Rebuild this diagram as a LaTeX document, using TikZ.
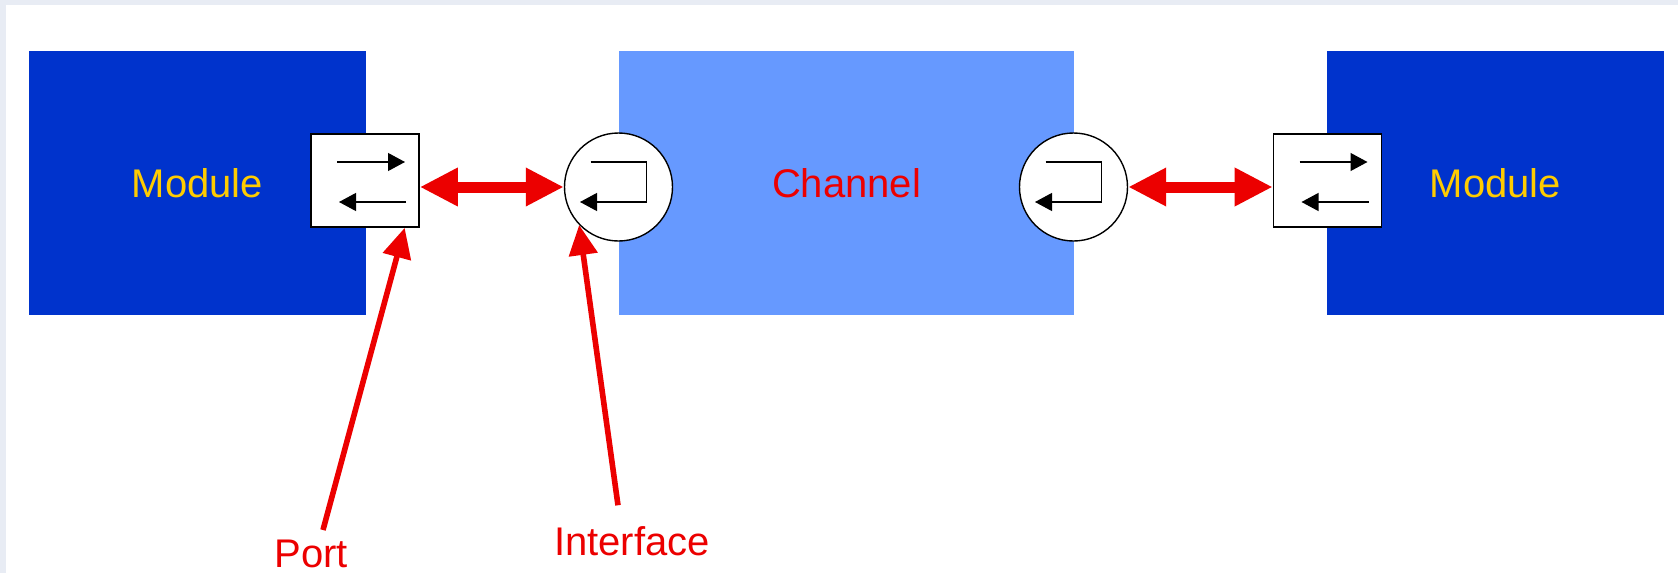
\documentclass[tikz,border=0pt]{standalone}
\usepackage{fontspec}
\setmainfont{Liberation Sans}
\usepackage{tikz}
\usetikzlibrary{arrows.meta}

\definecolor{modblue}{RGB}{0,51,204}
\definecolor{chanblue}{RGB}{102,153,255}
\definecolor{linkred}{RGB}{236,0,0}
\definecolor{modgold}{RGB}{255,204,0}
\definecolor{framegray}{RGB}{232,236,244}

\begin{document}
\begin{tikzpicture}[x=0.5pt,y=-0.5pt,>=stealth,
	font=\fontsize{20}{24}\selectfont,
	module/.style={rectangle,fill=modblue,text=modgold,minimum width=168.5pt,minimum height=132pt},
	channel/.style={rectangle,fill=chanblue,text=linkred,minimum width=227.5pt,minimum height=132pt},
	portbox/.style={rectangle,draw=black,line width=0.8pt,fill=white,minimum width=54pt,minimum height=46.5pt},
	ifcircle/.style={circle,draw=black,line width=0.7pt,fill=white,minimum size=54pt,inner sep=0pt},
	link/.style={linkred,line width=5.5pt,{Triangle[length=19pt,width=18pt]}-{Triangle[length=19pt,width=18pt]}},
	pointer/.style={linkred,line width=2.8pt,-{Triangle[length=15pt,width=14pt]}},
	flow/.style={black,line width=0.6pt,-{Triangle[length=8.5pt,width=9pt]}},
	callout/.style={text=linkred}
	]
	\useasboundingbox (0,0) rectangle (1678,573);
	\fill[framegray] (0,0) rectangle (1678,573);
	\fill[white] (6,5) rectangle (1678,573);
	
	% blocks
	\node[module] (modL) at (197.5,183) {Module};
	\node[channel] (chan) at (846.5,183) {Channel};
	\node[module] (modR) at (1495.5,183) {Module};
	
	% ports and interfaces
	\node[portbox] (portL) at (365,180.5) {};
	\node[portbox] (portR) at (1327.5,180.5) {};
	\node[ifcircle] (ifL) at (618.5,187) {};
	\node[ifcircle] (ifR) at (1073.5,187) {};
	
	\foreach \p in {portL,portR}{
		\draw[flow,shift={(\p.center)}] (-28,-18.5) -- (40,-18.5);
		\draw[flow,shift={(\p.center)}] (41,21.5) -- (-26,21.5);
	}
	\foreach \c in {ifL,ifR}{
		\draw[flow,shift={(\c.center)}] (-28,-25) -- (28,-25) -- (28,15) -- (-38.5,15);
	}
	
	% links
	\draw[link] (portL.east |- ifL.west) -- (ifL.west);
	\draw[link] (ifR.east) -- (portR.west |- ifR.east);
	
	% labels
	\node[callout] (portlbl) at (311,554) {Port};
	\node[callout] (iflbl) at (632,541) {Interface};
	\draw[pointer] ([xshift=6pt,yshift=1.5pt]portlbl.north) -- (portL.-50);
	\draw[pointer] ([xshift=-7pt,yshift=7pt]iflbl.north) -- (ifL.-136);
\end{tikzpicture}
\end{document}
